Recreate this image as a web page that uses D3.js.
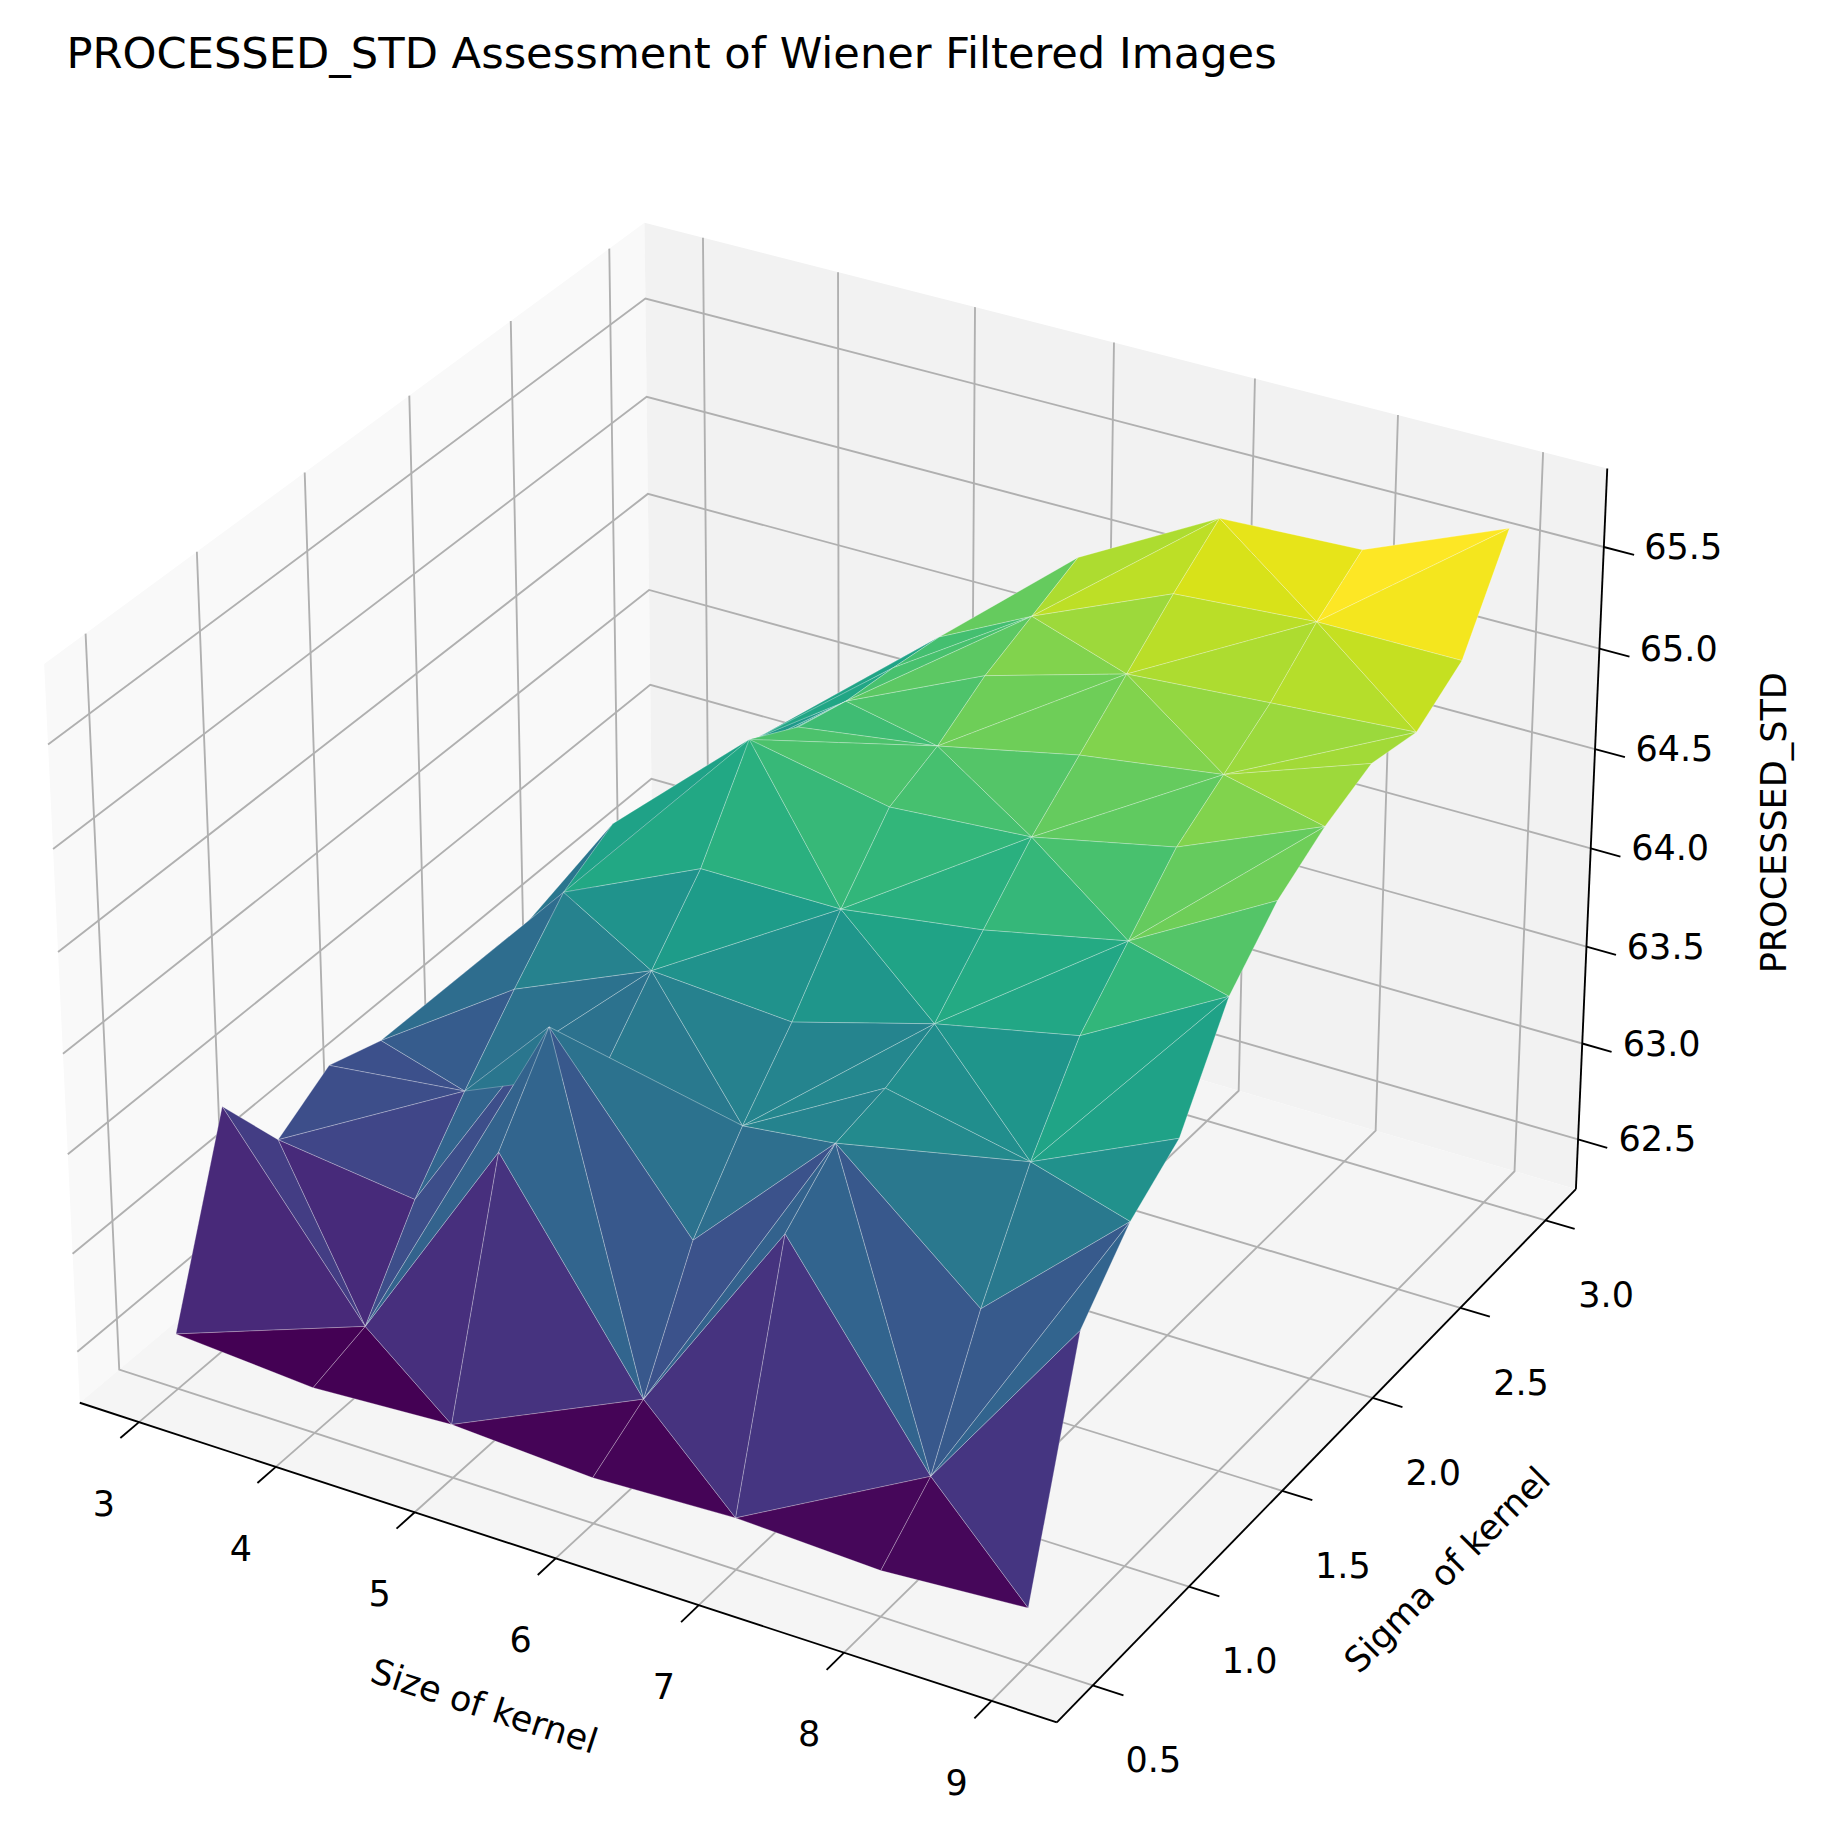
<!DOCTYPE html>
<html><head><meta charset="utf-8">
<script src="https://cdn.jsdelivr.net/npm/d3@7"></script>
<style>body{margin:0;background:#fff}</style></head>
<body><svg id="c" width="1830" height="1830" viewBox="0 0 1568 1568"></svg>
<script>
const sizes = [3,4,5,6,7,8,9];
const sigmas = [0.5,0.75,1.0,1.25,1.5,1.75,2.0,2.25,2.5,2.75,3.0];
// rows = sigma, columns = size
const stdValues = [
 [62.52,62.47,62.51,62.47,62.50,62.47,62.52],
 [63.45,62.55,63.65,62.63,63.68,62.70,63.65],
 [63.06,62.97,64.05,63.20,63.90,63.30,63.95],
 [63.22,63.30,63.60,63.55,63.95,63.80,64.13],
 [63.13,63.60,63.90,63.85,64.05,64.20,64.60],
 [63.02,63.88,64.20,64.20,64.30,64.45,64.85],
 [63.04,64.02,64.64,64.50,64.55,64.70,65.00],
 [63.05,63.95,64.50,64.60,64.75,64.85,65.10],
 [63.00,63.90,64.43,64.75,64.95,65.00,65.05],
 [63.10,63.85,64.40,64.85,65.15,65.20,65.20],
 [63.14,63.74,64.36,64.95,65.33,65.36,65.65]
];
const xTicks=[3,4,5,6,7,8,9];
const yTicks=[0.5,1.0,1.5,2.0,2.5,3.0];
const zTicks=[62.5,63.0,63.5,64.0,64.5,65.0,65.5];

const svg=d3.select("#c");
const allZ=stdValues.flat();
const zmin=d3.min(allZ), zmax=d3.max(allZ);
function lims(a,b){const r=b-a,m=0.05*r;let lo=a-m,hi=b+m;const d=(hi-lo)/48;return [lo-d,hi+d];}
const XL=lims(3,9), YL=lims(0.5,3.0), ZL=lims(zmin,zmax);
const sx=d3.scaleLinear().domain(XL), sy=d3.scaleLinear().domain(YL), sz=d3.scaleLinear().domain(ZL);
const nrm=1.8294640721620434/Math.sqrt(41);
const box=[4*nrm,4*nrm,3*nrm];
sx.range([0,box[0]]);sy.range([0,box[1]]);sz.range([0,box[2]]);
const elev=30*Math.PI/180, azim=-60*Math.PI/180;
const R=box.map(b=>b/2);
const dir=[Math.cos(elev)*Math.cos(azim),Math.cos(elev)*Math.sin(azim),Math.sin(elev)];
const w=dir;
const cross=(a,b)=>[a[1]*b[2]-a[2]*b[1],a[2]*b[0]-a[0]*b[2],a[0]*b[1]-a[1]*b[0]];
const dot=(a,b)=>a[0]*b[0]+a[1]*b[1]+a[2]*b[2];
let u=cross([0,0,1],w);const ul=Math.hypot(...u);u=u.map(t=>t/ul);
const v=cross(w,u);
let eye;
function raw(x,y,z){const b=[sx(x),sy(y),sz(z)];const d=b.map((t,i)=>t-eye[i]);
  const Z=dot(d,w);return [dot(d,u)/(-Z),dot(d,v)/(-Z),-Z];}
const X0=XL[0],X1=XL[1],Y0=YL[0],Y1=YL[1],Z0=ZL[0],Z1=ZL[1];
const corners=[[X0,Y0,Z0,70,1205],[X1,Y0,Z0,905,1475],[X1,Y1,Z0,1350,1020],[X0,Y1,Z0,556,786],
 [X0,Y0,Z1,40,565],[X0,Y1,Z1,550,195],[X1,Y1,Z1,1380,400]];
function solve3(A,b){const M=A.map((r,i)=>[...r,b[i]]);
  for(let i=0;i<3;i++){let p=i;for(let k=i+1;k<3;k++)if(Math.abs(M[k][i])>Math.abs(M[p][i]))p=k;[M[i],M[p]]=[M[p],M[i]];
    for(let k=0;k<3;k++)if(k!==i){const f=M[k][i]/M[i][i];for(let j=i;j<4;j++)M[k][j]-=f*M[i][j];}}
  return M.map((r,i)=>r[3]/r[i]);}
function fitAffine(pts){const A=[[0,0,0],[0,0,0],[0,0,0]],bx=[0,0,0],by=[0,0,0];
  pts.forEach(p=>{const f=[p[0],p[1],1];for(let i=0;i<3;i++){for(let j=0;j<3;j++)A[i][j]+=f[i]*f[j];bx[i]+=f[i]*p[2];by[i]+=f[i]*p[3];}});
  return [solve3(A,bx),solve3(A,by)];}
let best=null;
for(let dist=1.2;dist<=30;dist+=0.1){
  eye=R.map((r,i)=>r+dist*dir[i]);
  const pts=corners.map(c=>{const r=raw(c[0],c[1],c[2]);return [r[0],r[1],c[3],c[4]];});
  const [ax,ay]=fitAffine(pts);
  const err=d3.sum(pts,p=>(ax[0]*p[0]+ax[1]*p[1]+ax[2]-p[2])**2+(ay[0]*p[0]+ay[1]*p[1]+ay[2]-p[3])**2);
  if(!best||err<best.err)best={err,dist,ax,ay};
}
eye=R.map((r,i)=>r+best.dist*dir[i]);
const AX=best.ax, AY=best.ay;
function P(x,y,z){const r=raw(x,y,z);return [AX[0]*r[0]+AX[1]*r[1]+AX[2],AY[0]*r[0]+AY[1]*r[1]+AY[2],r[2]];}

const g=svg.append("g");
const line=d3.line();
function poly(ptsList,fill,stroke,sw){g.append("path").attr("d",line(ptsList.map(p=>[p[0],p[1]]))+"Z").attr("fill",fill).attr("stroke",stroke||"none").attr("stroke-width",sw||0);}
poly([P(X0,Y0,Z0),P(X0,Y1,Z0),P(X0,Y1,Z1),P(X0,Y0,Z1)],"#f9f9f9");
poly([P(X0,Y1,Z0),P(X1,Y1,Z0),P(X1,Y1,Z1),P(X0,Y1,Z1)],"#f2f2f2");
poly([P(X0,Y0,Z0),P(X1,Y0,Z0),P(X1,Y1,Z0),P(X0,Y1,Z0)],"#f5f5f5");
const gl=(arr)=>g.append("path").attr("d",line(arr.map(p=>[p[0],p[1]]))).attr("fill","none").attr("stroke","#b0b0b0").attr("stroke-width",1.6);
xTicks.forEach(t=>gl([P(t,Y0,Z0),P(t,Y1,Z0),P(t,Y1,Z1)]));
yTicks.forEach(t=>gl([P(X1,t,Z0),P(X0,t,Z0),P(X0,t,Z1)]));
zTicks.forEach(t=>gl([P(X0,Y0,t),P(X0,Y1,t),P(X1,Y1,t)]));
const tris=[];
for(let i=0;i<sigmas.length-1;i++)for(let j=0;j<sizes.length-1;j++){
  const a=[sizes[j],sigmas[i],stdValues[i][j]],b=[sizes[j+1],sigmas[i],stdValues[i][j+1]],
        c=[sizes[j+1],sigmas[i+1],stdValues[i+1][j+1]],d=[sizes[j],sigmas[i+1],stdValues[i+1][j]];
  if((i+j)%2===0){tris.push([a,b,c]);tris.push([a,c,d]);}else{tris.push([a,b,d]);tris.push([b,c,d]);}
}
const ft=tris.map(t=>{const p=t.map(q=>P(q[0],q[1],q[2]));return {p,depth:d3.mean(p,q=>q[2]),z:d3.mean(t,q=>q[2])};});
const col=d3.scaleSequential(d3.interpolateViridis).domain(d3.extent(ft,t=>t.z));
ft.sort((a,b)=>b.depth-a.depth);
ft.forEach(t=>poly(t.p,col(t.z),"rgba(255,255,255,0.28)",0.8));
const al=(arr)=>g.append("path").attr("d",line(arr.map(p=>[p[0],p[1]]))).attr("fill","none").attr("stroke","#000").attr("stroke-width",1.6);
al([P(X0,Y0,Z0),P(X1,Y0,Z0)]);al([P(X1,Y0,Z0),P(X1,Y1,Z0)]);al([P(X1,Y1,Z0),P(X1,Y1,Z1)]);
const font="DejaVu Sans";
function txt(x,y,s,fs,rot,anchor){const t=g.append("text").attr("x",x).attr("y",y).attr("font-family",font).attr("font-size",fs).attr("text-anchor",anchor||"middle").attr("dominant-baseline","central").attr("fill","#000").text(s);if(rot)t.attr("transform",`rotate(${rot},${x},${y})`);}
const ry=YL[1]-YL[0], rx=XL[1]-XL[0];
xTicks.forEach(t=>{const a=P(t,Y0,Z0),b=P(t,Y0-0.03*ry,Z0);al([a,b]);const l=P(t,Y0,Z0);txt(l[0]-30,l[1]+70,t,30);});
yTicks.forEach(t=>{const a=P(X1,t,Z0),b=P(X1+0.03*rx,t,Z0);al([a,b]);const l=P(X1,t,Z0);txt(l[0]+52,l[1]+64,t.toFixed(1),30);});
zTicks.forEach(t=>{const a=P(X1,Y1,t),b=P(X1+0.03*rx,Y1,t);al([a,b]);const l=P(X1,Y1,t);txt(l[0]+68,l[1],t.toFixed(1),30);});
txt(415,1462,"Size of kernel",30,18);
txt(1240,1345,"Sigma of kernel",30,-45);
txt(1520,705,"PROCESSED_STD",30,-90);
txt(57,45,"PROCESSED_STD Assessment of Wiener Filtered Images",37,0,"start");
</script></body></html>
